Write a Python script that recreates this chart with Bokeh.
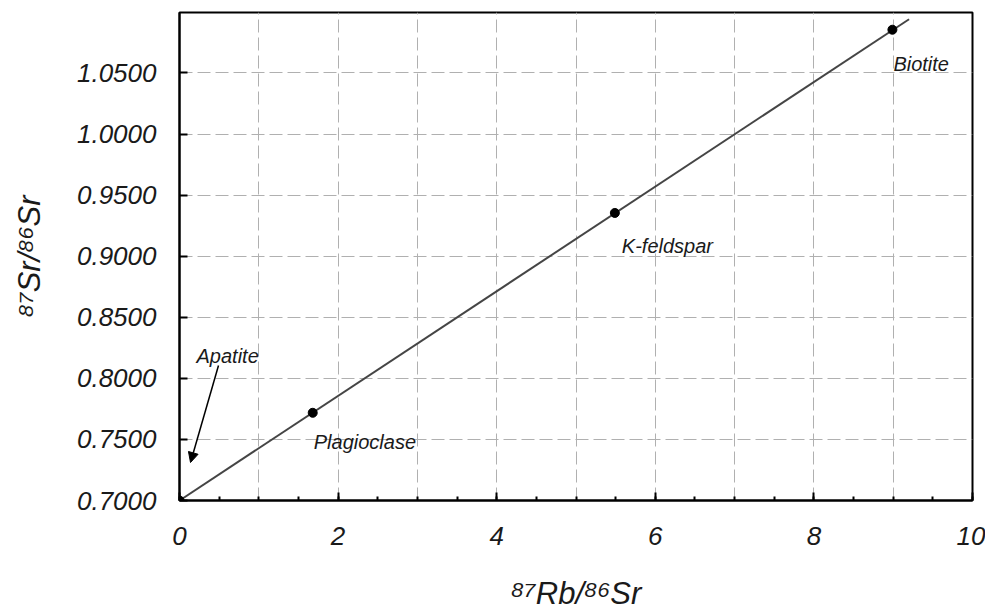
from bokeh.plotting import figure
from bokeh.models import (Range1d, SingleIntervalTicker, PrintfTickFormatter,
                          Arrow, NormalHead, ColumnDataSource)
from bokeh.core.properties import value
from bokeh.embed import file_html
from bokeh.resources import INLINE

# ---- data ----
minerals = ["Apatite", "Plagioclase", "K-feldspar", "Biotite"]
rb87_sr86 = [0.00, 1.68, 5.49, 8.99]
sr87_sr86 = [0.7000, 0.7718, 0.9354, 1.0854]

isochron_x = [0.00, 9.20]
isochron_y = [0.7000, 1.0940]

x_title = "\u2078\u2077Rb/\u2078\u2076Sr"
y_title = "\u2078\u2077Sr/\u2078\u2076Sr"

# ---- styles ----
FONT = "Liberation Sans"
TXT = "#1a1a1a"
label_dx = [17, 1, 7, 1]
label_dy = [-145, 29, 33, 34]

p = figure(width=985, height=614, x_range=Range1d(0, 10), y_range=Range1d(0.7, 1.0995),
           output_backend="svg", toolbar_location=None,
           min_border_left=179, min_border_right=13, min_border_top=12, min_border_bottom=114)
p.background_fill_color = "white"
p.border_fill_color = "white"
p.outline_line_color = "black"
p.outline_line_width = 2

# axes
p.xaxis.ticker = SingleIntervalTicker(interval=2, num_minor_ticks=4)
p.yaxis.ticker = SingleIntervalTicker(interval=0.05, num_minor_ticks=0)
p.yaxis.formatter = PrintfTickFormatter(format="%.4f")
for ax in (p.xaxis[0], p.yaxis[0]):
    ax.axis_line_color = "black"
    ax.axis_line_width = 2
    ax.major_tick_line_color = "black"
    ax.major_tick_line_width = 2
    ax.major_tick_in = 8
    ax.major_tick_out = 0
    ax.minor_tick_line_color = "black"
    ax.minor_tick_line_width = 2
    ax.minor_tick_in = 4
    ax.minor_tick_out = 0
    ax.major_label_text_font = FONT
    ax.major_label_text_font_style = "italic"
    ax.major_label_text_font_size = "26px"
    ax.major_label_text_color = TXT
    ax.axis_label_text_font = FONT
    ax.axis_label_text_font_style = "italic"
    ax.axis_label_text_font_size = "31px"
    ax.axis_label_text_color = TXT
p.yaxis.minor_tick_line_color = None
p.xaxis.major_label_standoff = 26
p.yaxis.major_label_standoff = 23
p.xaxis.axis_label = x_title
p.yaxis.axis_label = y_title
p.xaxis.axis_label_standoff = 28
p.yaxis.axis_label_standoff = 27

# grids
p.xgrid.ticker = SingleIntervalTicker(interval=1, num_minor_ticks=0)
p.ygrid.ticker = SingleIntervalTicker(interval=0.05, num_minor_ticks=0)
for g in (p.xgrid[0], p.ygrid[0]):
    g.grid_line_color = "#b0b0b0"
    g.grid_line_width = 1
    g.grid_line_dash = "13 5"

# isochron
p.line(isochron_x, isochron_y, line_color="#454545", line_width=2)

src = ColumnDataSource(dict(x=rb87_sr86, y=sr87_sr86, name=minerals,
                            dx=label_dx, dy=label_dy))
p.scatter("x", "y", source=src, size=9, color="black")
p.text("x", "y", text="name", source=src, x_offset="dx", y_offset="dy",
       text_font=value(FONT), text_font_style="italic", text_font_size="20px",
       text_color=TXT, text_align="left", text_baseline="alphabetic")

# arrow to apatite
p.add_layout(Arrow(x_start=39, y_start=135, x_end=11, y_end=38,
                   start_units="screen", end_units="screen",
                   end=NormalHead(size=10, fill_color="black", line_color="black", line_width=1),
                   line_color="black", line_width=1.5))

open("out.html", "w").write(file_html(p, INLINE))
